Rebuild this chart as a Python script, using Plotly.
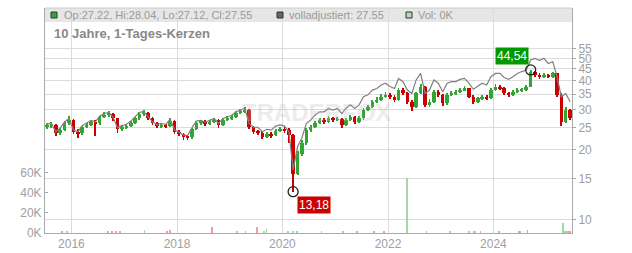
import math
import pandas as pd
import plotly.graph_objects as go

# ---------------- data (monthly candles) ----------------
months = pd.date_range("2015-07-01", periods=120, freq="MS") + pd.Timedelta(days=14)

first_open = 25.2
closes = [
    25.5, 25.7, 23.6, 24.5, 26.1, 27.0, 24.0, 23.6, 25.1, 25.7,
    26.5, 26.1, 27.7, 28.4, 28.7, 27.4, 24.6, 25.1, 25.4, 26.3,
    27.4, 28.7, 29.0, 27.4, 26.1, 25.4, 25.7, 25.4, 26.8, 24.0,
    23.5, 22.8, 22.7, 24.6, 26.3, 26.5, 26.0, 26.5, 27.0, 25.7,
    27.0, 27.4, 27.9, 29.0, 29.3, 29.8, 25.1, 24.0, 23.8, 22.8,
    23.5, 23.2, 24.2, 24.6, 24.4, 23.2, 15.8, 19.3, 21.4, 24.4,
    25.1, 26.3, 27.0, 26.5, 27.4, 27.0, 27.2, 25.7, 27.0, 27.9,
    26.5, 27.4, 29.8, 30.8, 32.4, 33.0, 34.1, 34.7, 34.1, 33.0,
    36.4, 35.2, 32.4, 30.8, 35.2, 37.7, 31.4, 32.4, 35.8, 34.7,
    31.9, 34.7, 35.2, 35.8, 36.4, 37.0, 34.1, 32.4, 33.5, 34.1,
    33.5, 36.4, 37.7, 37.0, 35.2, 34.7, 35.8, 36.4, 36.6, 37.7,
    43.8, 42.3, 41.6, 42.3, 41.6, 43.0, 34.7, 26.5, 29.8, 27.55,
]
highs = [
    26.2, 26.4, 26.0, 25.0, 26.6, 28.0, 27.3, 24.6, 25.5, 26.2,
    27.0, 27.0, 28.2, 29.2, 29.4, 29.0, 27.6, 25.6, 25.9, 26.8,
    27.9, 29.2, 29.8, 29.3, 27.7, 26.4, 26.2, 26.0, 27.4, 27.0,
    24.4, 23.8, 23.3, 25.0, 26.8, 27.1, 26.9, 27.1, 27.6, 27.3,
    27.5, 28.0, 28.5, 29.6, 30.0, 30.6, 30.0, 25.5, 24.5, 24.1,
    24.0, 23.9, 24.7, 25.2, 25.3, 24.8, 23.4, 19.8, 22.0, 24.9,
    25.8, 26.8, 27.6, 27.5, 28.0, 27.9, 27.9, 27.5, 27.5, 28.5,
    28.2, 28.0, 30.3, 31.5, 33.0, 33.8, 34.9, 35.6, 35.3, 34.6,
    37.2, 37.0, 35.6, 32.8, 35.8, 38.8, 38.0, 33.2, 36.5, 36.3,
    35.0, 35.3, 36.0, 36.5, 37.2, 37.8, 37.3, 34.5, 34.1, 34.8,
    34.6, 37.0, 38.5, 38.3, 37.4, 35.6, 36.4, 37.0, 37.2, 38.4,
    44.54, 44.2, 43.0, 43.1, 42.8, 43.8, 43.3, 35.2, 30.8, 30.2,
]
lows = [
    24.6, 24.9, 23.0, 23.2, 24.2, 25.8, 23.5, 22.6, 23.3, 24.8,
    25.4, 22.9, 25.8, 27.4, 27.9, 26.8, 23.8, 24.2, 24.7, 25.1,
    26.0, 27.1, 28.2, 26.9, 25.6, 24.9, 25.0, 24.8, 25.1, 23.5,
    22.9, 22.2, 22.0, 22.4, 24.3, 25.8, 25.5, 25.6, 26.1, 25.0,
    25.4, 26.6, 27.0, 27.6, 28.6, 29.0, 24.6, 23.5, 23.2, 22.3,
    22.5, 22.6, 22.9, 23.9, 23.8, 21.5, 13.18, 15.5, 18.9, 21.1,
    24.0, 24.8, 26.0, 26.0, 26.2, 26.5, 26.6, 25.0, 25.4, 26.7,
    25.9, 26.2, 27.1, 29.4, 30.5, 32.0, 32.7, 33.7, 33.4, 32.3,
    32.7, 34.5, 31.8, 29.5, 30.5, 34.9, 30.6, 30.6, 32.1, 34.0,
    31.0, 31.5, 34.2, 34.8, 35.4, 35.9, 33.5, 31.8, 32.0, 33.0,
    32.8, 33.2, 36.0, 36.4, 34.6, 34.0, 34.4, 35.4, 35.6, 35.9,
    37.4, 41.5, 40.8, 41.2, 40.9, 41.2, 34.0, 25.5, 26.2, 27.0,
]
adjusted = [
    25.9, 26.1, 24.0, 24.9, 26.5, 27.4, 24.4, 24.0, 25.5, 26.1,
    26.9, 26.5, 28.1, 28.8, 29.1, 27.8, 25.0, 25.5, 25.8, 26.7,
    27.8, 29.1, 29.4, 27.8, 26.5, 25.8, 26.1, 25.8, 27.2, 24.4,
    23.9, 23.2, 23.1, 25.0, 26.7, 26.9, 26.4, 26.9, 27.4, 26.1,
    27.4, 27.8, 28.3, 29.4, 29.7, 30.4, 26.1, 25.1, 25.1, 24.0,
    24.6, 24.4, 25.4, 25.7, 25.4, 24.0, 16.4, 20.7, 22.6, 26.1,
    27.0, 28.4, 29.3, 29.3, 30.3, 29.8, 30.3, 28.8, 30.3, 31.4,
    30.3, 31.4, 34.1, 34.7, 36.4, 37.0, 38.3, 39.0, 37.7, 37.0,
    40.9, 39.6, 36.4, 35.2, 40.3, 43.0, 35.2, 36.4, 40.3, 39.0,
    35.8, 39.0, 39.6, 39.6, 40.5, 40.9, 39.0, 36.7, 38.0, 39.0,
    38.3, 41.6, 43.0, 43.0, 41.3, 40.5, 41.6, 43.0, 43.8, 44.5,
    49.2, 50.0, 48.9, 50.0, 47.5, 48.3, 42.0, 34.1, 35.2, 32.4,
]
opens = [first_open] + closes[:-1]

vol_dates = [
    "2015-10-30", "2015-11-29", "2016-09-11", "2016-10-08", "2016-11-05", "2016-12-03",
    "2017-05-20", "2017-10-22", "2017-11-14", "2018-09-02", "2019-02-18", "2019-04-21",
    "2019-07-10", "2019-08-26", "2019-09-13", "2020-02-10", "2020-03-14", "2020-04-09",
    "2020-09-28", "2021-02-25", "2021-06-02", "2021-09-27", "2021-12-06", "2022-05-14",
    "2022-09-25", "2023-03-07", "2023-07-16", "2023-08-19", "2023-08-29", "2023-10-03",
    "2024-02-09", "2024-06-27", "2024-07-06", "2024-08-24", "2025-04-27", "2025-05-09",
    "2025-05-25", "2025-06-08", "2025-06-18",
]
vol_values = [
    2300, 1700, 1200, 1800, 1400, 1500,
    3000, 1500, 2500, 6200, 2300, 2000,
    6000, 2000, 4000, 2000, 1200, 1000,
    2000, 2300, 1000, 2000, 1500, 54000,
    1000, 1000, 1000, 1500, 1500, 2000,
    1000, 2000, 1000, 3000, 10000, 2000,
    2000, 2000, 1800,
]
vol_dir = [
    "d", "u", "d", "d", "d", "d",
    "u", "d", "d", "d", "u", "u",
    "d", "u", "u", "u", "u", "u",
    "u", "u", "d", "d", "d", "u",
    "u", "u", "u", "u", "u", "d",
    "d", "d", "u", "n", "u", "u",
    "u", "d", "d",
]

price_ticks = [10, 15, 20, 25, 30, 35, 40, 45, 50, 55]
vol_ticks = [0, 20000, 40000, 60000]
vol_tick_labels = ["0K", "20K", "40K", "60K"]
year_ticks = ["2016-01-01", "2018-01-01", "2020-01-01", "2022-01-01", "2024-01-01"]
year_labels = ["2016", "2018", "2020", "2022", "2024"]

low_point = ("2020-03-15", 13.18, "13,18")
high_point = ("2024-09-15", 44.54, "44,54")

header_ohlc = "Op:27.22, Hi:28.04, Lo:27.12, Cl:27.55"
header_adj = "volladjustiert: 27.55"
header_vol = "Vol: 0K"
title_text = "10 Jahre, 1-Tages-Kerzen"

# ---------------- style ----------------
GREEN = "#33a533"
RED = "#cc0000"
GRID = "#dcdcdc"
AXIS = "#aaaaaa"
TXT = "#a0a0a0"
FONT = "Liberation Sans, Arial, sans-serif"
DAY_MS = 86400000

W, H = 632, 253
L, R, T, B = 45, 60, 8, 20
PW, PH = W - L - R, H - T - B


def px(xp):
    return (xp - L) / PW


def py(yp):
    return (H - B - yp) / PH


vol_colors = {"u": "#a6d8a6", "d": "#f0a0a0", "n": "#b0b0b0"}

candle_colors = [GREEN if c >= o else RED for o, c in zip(opens, closes)]
body_base = [min(o, c) for o, c in zip(opens, closes)]
body_len = [max(abs(c - o), 0.15) for o, c in zip(opens, closes)]
wick_len = [h - l for h, l in zip(highs, lows)]

fig = go.Figure()

fig.add_trace(go.Bar(
    x=vol_dates, y=vol_values, yaxis="y",
    marker=dict(color=[vol_colors[d] for d in vol_dir], line=dict(width=0)),
    width=5 * DAY_MS, showlegend=False, hoverinfo="skip",
))

# candle wicks (high-low)
fig.add_trace(go.Bar(
    x=months, y=wick_len, base=lows, yaxis="y2",
    marker=dict(color=candle_colors, line=dict(width=0)),
    width=6 * DAY_MS, showlegend=False, hoverinfo="skip",
))
# candle bodies (open-close)
fig.add_trace(go.Bar(
    x=months, y=body_len, base=body_base, yaxis="y2",
    marker=dict(color=candle_colors, line=dict(width=0)),
    width=24 * DAY_MS, showlegend=False, hoverinfo="skip",
))

fig.add_trace(go.Scatter(
    x=months, y=adjusted, yaxis="y2", mode="lines",
    line=dict(color="#808080", width=1.2), showlegend=False, hoverinfo="skip",
))

fig.add_trace(go.Scatter(
    x=[low_point[0], high_point[0]], y=[low_point[1], high_point[1]], yaxis="y2",
    mode="markers",
    marker=dict(symbol="circle-open", size=10, color="#222222", line=dict(width=1.3)),
    showlegend=False, hoverinfo="skip",
))

annotations = [
    dict(x=low_point[0], y=math.log10(low_point[1]), xref="x", yref="y2",
         text=low_point[2], showarrow=False, xanchor="left", yanchor="top",
         xshift=4, yshift=-4, bgcolor=RED, borderpad=1,
         font=dict(color="white", size=12, family=FONT)),
    dict(x=high_point[0], y=math.log10(high_point[1]), xref="x", yref="y2",
         text=high_point[2], showarrow=False, xanchor="right", yanchor="bottom",
         xshift=-2, yshift=5, bgcolor="#009900", borderpad=1,
         font=dict(color="white", size=12, family=FONT)),
    dict(x=px(62), y=py(15.5), xref="paper", yref="paper", text=header_ohlc,
         showarrow=False, xanchor="left", yanchor="middle",
         font=dict(color="#9a9a9a", size=11, family=FONT)),
    dict(x=px(287), y=py(15.5), xref="paper", yref="paper", text=header_adj,
         showarrow=False, xanchor="left", yanchor="middle",
         font=dict(color="#9a9a9a", size=11, family=FONT)),
    dict(x=px(416), y=py(15.5), xref="paper", yref="paper", text=header_vol,
         showarrow=False, xanchor="left", yanchor="middle",
         font=dict(color="#9a9a9a", size=11, family=FONT)),
    dict(x=px(52), y=py(33.5), xref="paper", yref="paper", text="<b>" + title_text + "</b>",
         showarrow=False, xanchor="left", yanchor="middle",
         font=dict(color="#888888", size=13, family=FONT)),
    dict(x=px(316), y=py(112), xref="paper", yref="paper", text="<b>TRADERFOX</b>",
         showarrow=False, xanchor="center", yanchor="middle",
         font=dict(color="rgba(190,190,190,0.30)", size=24, family=FONT)),
]

shapes = [
    dict(type="rect", xref="paper", yref="paper", x0=0, x1=1, y0=py(22), y1=py(8),
         fillcolor="#e6e6e6", line=dict(width=0), layer="below"),
    dict(type="line", xref="paper", yref="paper", x0=0, x1=1, y0=py(8), y1=py(8),
         line=dict(color="#cccccc", width=1), layer="below"),
    dict(type="rect", xref="paper", yref="paper", x0=px(51), x1=px(57), y0=py(18), y1=py(12),
         fillcolor=GREEN, line=dict(color="#333333", width=1)),
    dict(type="rect", xref="paper", yref="paper", x0=px(277), x1=px(283), y0=py(18), y1=py(12),
         fillcolor="#666666", line=dict(color="#333333", width=1)),
    dict(type="rect", xref="paper", yref="paper", x0=px(406), x1=px(412), y0=py(18), y1=py(12),
         fillcolor="#b3dcb3", line=dict(color="#333333", width=1)),
]

fig.update_layout(
    width=W, height=H,
    margin=dict(l=L, r=R, t=T, b=B, pad=0, autoexpand=False),
    paper_bgcolor="white", plot_bgcolor="white",
    font=dict(family=FONT, size=12, color=TXT),
    showlegend=False, barmode="overlay", bargap=0,
    xaxis=dict(
        type="date", range=["2015-07-02", "2025-06-28"],
        tickvals=year_ticks, ticktext=year_labels,
        showgrid=True, gridcolor=GRID, gridwidth=1,
        showline=True, linecolor=AXIS, linewidth=1,
        ticks="", tickfont=dict(size=12, color=TXT),
        zeroline=False, fixedrange=True, automargin=False,
    ),
    yaxis=dict(
        side="left", range=[0, 222800],
        tickvals=vol_ticks, ticktext=vol_tick_labels,
        showgrid=False, zeroline=False,
        showline=True, linecolor=AXIS, linewidth=1,
        ticks="inside", ticklen=3, tickcolor=AXIS,
        tickfont=dict(size=12, color=TXT), automargin=False,
    ),
    yaxis2=dict(
        overlaying="y", side="right", type="log",
        range=[0.9405, 1.9175],
        tickvals=price_ticks, ticktext=[str(v) for v in price_ticks],
        showgrid=True, gridcolor=GRID, gridwidth=1,
        showline=True, linecolor=AXIS, linewidth=1,
        ticks="outside", ticklen=3, tickcolor=AXIS,
        tickfont=dict(size=12, color=TXT), zeroline=False, automargin=False,
    ),
    annotations=annotations,
    shapes=shapes,
)

fig.write_html("out.html")
